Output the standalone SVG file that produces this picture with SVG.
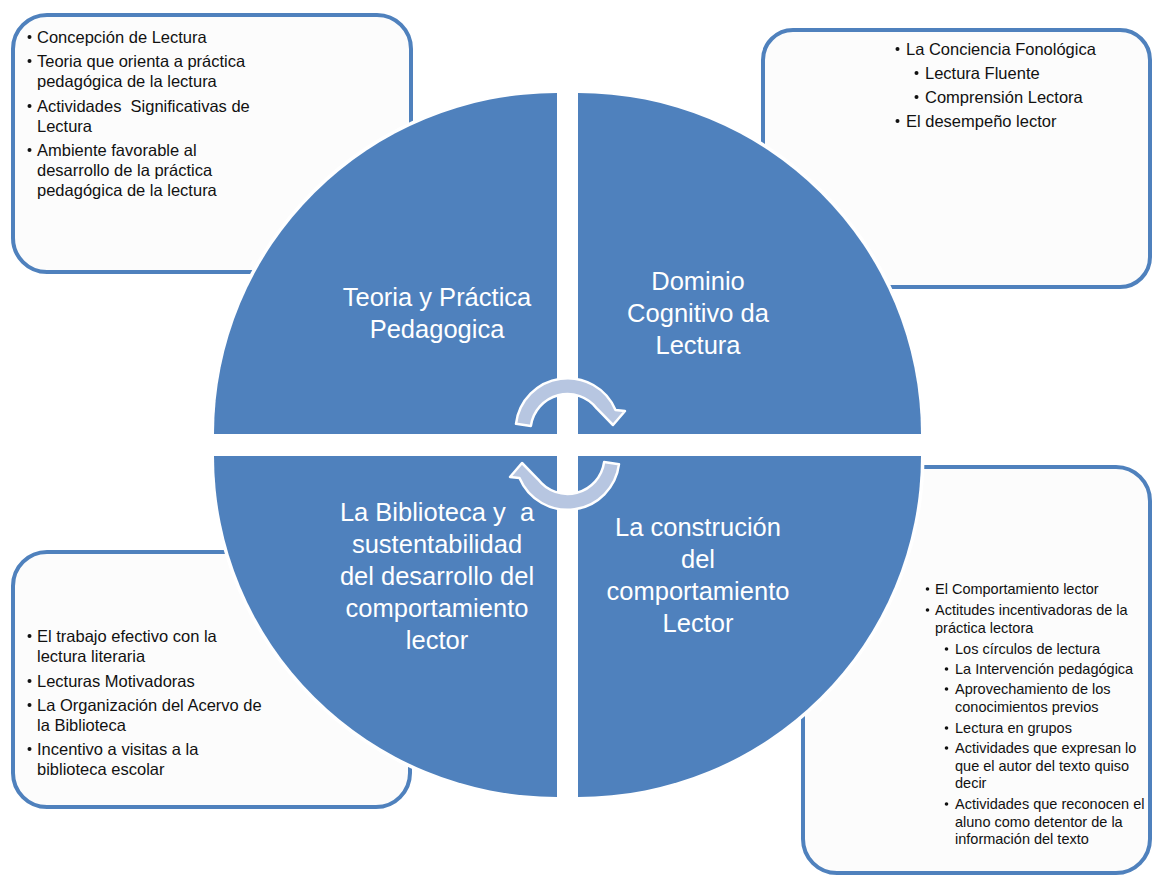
<svg xmlns="http://www.w3.org/2000/svg" width="1152" height="875" viewBox="0 0 1152 875">
  <style>
    .box { fill: #fcfcfc; stroke: #4f81bd; stroke-width: 4; }
    .pie { fill: #4f81bd; }
    .halo { fill: none; stroke: #ffffff; stroke-width: 7; stroke-linejoin: round; }
    .label { font-family: "Liberation Sans", Arial, sans-serif; font-size: 25.5px; fill: #ffffff; text-anchor: middle; white-space: pre; }
    .item { font-family: "Liberation Sans", Arial, sans-serif; font-size: 16.5px; fill: #111111; }
    .small { font-family: "Liberation Sans", Arial, sans-serif; font-size: 14.5px; fill: #111111; }
    .dot { fill: #111111; }
    .cycle { fill: #b7c6e1; stroke: #ffffff; stroke-width: 2.5; stroke-linejoin: round; }
  </style>

  <!-- text boxes (drawn beneath the circle) -->
  <g id="box-teoria">
    <rect class="box" x="13" y="15" width="398" height="257" rx="34"/>
    <circle class="dot" cx="29.5" cy="37" r="2"/>
    <text class="item" x="37" y="43">Concepción de Lectura</text>
    <circle class="dot" cx="29.5" cy="61" r="2"/>
    <text class="item" x="37" y="67">Teoria que orienta a práctica</text>
    <text class="item" x="37" y="87">pedagógica de la lectura</text>
    <circle class="dot" cx="29.5" cy="106" r="2"/>
    <text class="item" x="37" y="112" style="white-space:pre">Actividades  Significativas de</text>
    <text class="item" x="37" y="132">Lectura</text>
    <circle class="dot" cx="29.5" cy="150" r="2"/>
    <text class="item" x="37" y="156">Ambiente favorable al</text>
    <text class="item" x="37" y="176">desarrollo de la práctica</text>
    <text class="item" x="37" y="196">pedagógica de la lectura</text>
  </g>

  <g id="box-dominio">
    <rect class="box" x="763" y="30" width="387" height="257" rx="30"/>
    <circle class="dot" cx="897.5" cy="49" r="2"/>
    <text class="item" x="906" y="55">La Conciencia Fonológica</text>
    <circle class="dot" cx="916.5" cy="73" r="2"/>
    <text class="item" x="925" y="79">Lectura Fluente</text>
    <circle class="dot" cx="916.5" cy="97" r="2"/>
    <text class="item" x="925" y="103">Comprensión Lectora</text>
    <circle class="dot" cx="897.5" cy="121" r="2"/>
    <text class="item" x="906" y="127">El desempeño lector</text>
  </g>

  <g id="box-biblioteca">
    <rect class="box" x="13" y="552" width="397" height="255" rx="34"/>
    <circle class="dot" cx="29.5" cy="636" r="2"/>
    <text class="item" x="37" y="642">El trabajo efectivo con la</text>
    <text class="item" x="37" y="662">lectura literaria</text>
    <circle class="dot" cx="29.5" cy="681" r="2"/>
    <text class="item" x="37" y="687">Lecturas Motivadoras</text>
    <circle class="dot" cx="29.5" cy="705" r="2"/>
    <text class="item" x="37" y="711">La Organización del Acervo de</text>
    <text class="item" x="37" y="731">la Biblioteca</text>
    <circle class="dot" cx="29.5" cy="749" r="2"/>
    <text class="item" x="37" y="755">Incentivo a visitas a la</text>
    <text class="item" x="37" y="775">biblioteca escolar</text>
  </g>

  <g id="box-construccion">
    <rect class="box" x="803" y="467" width="347" height="406" rx="34"/>
    <circle class="dot" cx="927.5" cy="589" r="1.8"/>
    <text class="small" x="935" y="594">El Comportamiento lector</text>
    <circle class="dot" cx="927.5" cy="610" r="1.8"/>
    <text class="small" x="935" y="615">Actitudes incentivadoras de la</text>
    <text class="small" x="935" y="633">práctica lectora</text>
    <circle class="dot" cx="946.5" cy="649" r="1.8"/>
    <text class="small" x="955" y="654">Los círculos de lectura</text>
    <circle class="dot" cx="946.5" cy="669" r="1.8"/>
    <text class="small" x="955" y="674">La Intervención pedagógica</text>
    <circle class="dot" cx="946.5" cy="689" r="1.8"/>
    <text class="small" x="955" y="694">Aprovechamiento de los</text>
    <text class="small" x="955" y="712">conocimientos previos</text>
    <circle class="dot" cx="946.5" cy="728" r="1.8"/>
    <text class="small" x="955" y="733">Lectura en grupos</text>
    <circle class="dot" cx="946.5" cy="748" r="1.8"/>
    <text class="small" x="955" y="753">Actividades que expresan lo</text>
    <text class="small" x="955" y="771">que el autor del texto quiso</text>
    <text class="small" x="955" y="788">decir</text>
    <circle class="dot" cx="946.5" cy="804" r="1.8"/>
    <text class="small" x="955" y="809">Actividades que reconocen el</text>
    <text class="small" x="955" y="827">aluno como detentor de la</text>
    <text class="small" x="955" y="844">información del texto</text>
  </g>

  <!-- white halo around the four quarter discs -->
  <g id="halo">
    <path class="halo" d="M557,434 L214,434 A343,341 0 0 1 557,93 Z"/>
    <path class="halo" d="M578,434 L578,93 A343,341 0 0 1 921,434 Z"/>
    <path class="halo" d="M557,456 L557,797 A343,341 0 0 1 214,456 Z"/>
    <path class="halo" d="M578,456 L921,456 A343,341 0 0 1 578,797 Z"/>
  </g>

  <g id="quadrant-teoria">
    <path class="pie" d="M557,434 L214,434 A343,341 0 0 1 557,93 Z"/>
    <text class="label" x="437" y="306">Teoria y Práctica</text>
    <text class="label" x="437" y="338">Pedagogica</text>
  </g>

  <g id="quadrant-dominio">
    <path class="pie" d="M578,434 L578,93 A343,341 0 0 1 921,434 Z"/>
    <text class="label" x="698" y="290">Dominio</text>
    <text class="label" x="698" y="322">Cognitivo da</text>
    <text class="label" x="698" y="354">Lectura</text>
  </g>

  <g id="quadrant-biblioteca">
    <path class="pie" d="M557,456 L557,797 A343,341 0 0 1 214,456 Z"/>
    <text class="label" x="437" y="521">La Biblioteca y  a</text>
    <text class="label" x="437" y="553">sustentabilidad</text>
    <text class="label" x="437" y="585">del desarrollo del</text>
    <text class="label" x="437" y="617">comportamiento</text>
    <text class="label" x="437" y="649">lector</text>
  </g>

  <g id="quadrant-construccion">
    <path class="pie" d="M578,456 L921,456 A343,341 0 0 1 578,797 Z"/>
    <text class="label" x="698" y="536">La construción</text>
    <text class="label" x="698" y="568">del</text>
    <text class="label" x="698" y="600">comportamiento</text>
    <text class="label" x="698" y="632">Lector</text>
  </g>

  <!-- circular arrows in the middle of the cycle -->
  <g id="connectors">
    <path id="cycle-top" class="cycle" d="M516,423.8 A52,52 0 0 1 615.5,410 L625,411 L613,425 L597,408.7 A37,37 0 0 0 530.9,425.9 Z"/>
    <path id="cycle-bottom" class="cycle" transform="rotate(180 567.5 444)" d="M516,423.8 A52,52 0 0 1 615.5,410 L625,411 L613,425 L597,408.7 A37,37 0 0 0 530.9,425.9 Z"/>
  </g>
</svg>
